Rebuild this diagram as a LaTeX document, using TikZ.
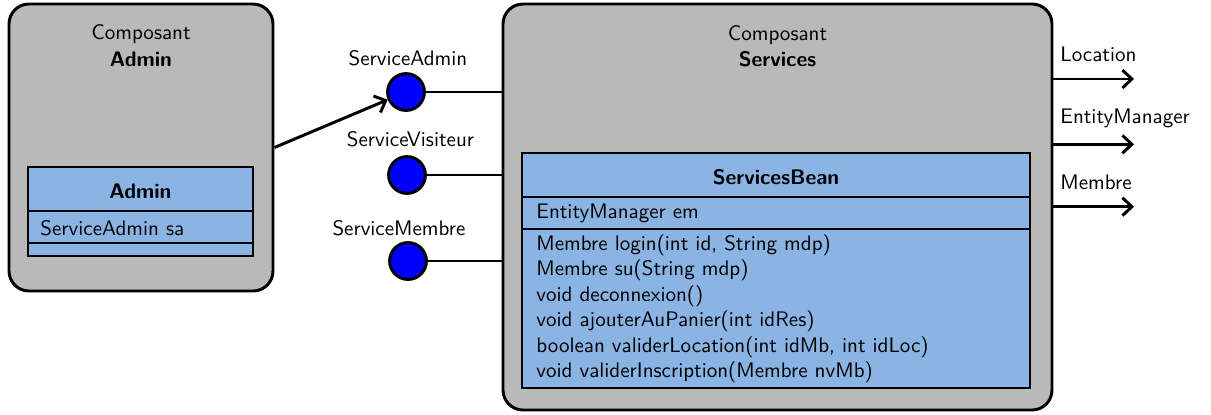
\documentclass[tikz,border=0pt]{standalone}
\usetikzlibrary{fit,arrows.meta}
\renewcommand{\familydefault}{\sfdefault}
\definecolor{compgray}{RGB}{185,185,185}
\definecolor{classblue}{RGB}{137,180,228}
\begin{document}
\begin{tikzpicture}[x=0.475pt,y=-0.475pt,
  comp/.style={draw, line width=1.4pt, fill=compgray, rounded corners=9.5pt, inner sep=0pt},
  cls/.style={draw, line width=0.8pt, fill=classblue, inner sep=0pt},
  port/.style={circle, draw, line width=1.4pt, fill=blue, minimum size=17.5pt, inner sep=0pt},
  wire/.style={line width=1.4pt},
  req/.style={wire, -{Straight Barb[length=4.5pt, width=8.5pt, line width=1.4pt]}},
  divider/.style={line width=0.8pt},
  lbl/.style={inner sep=0pt, font=\sffamily},
  blbl/.style={inner sep=0pt, font=\sffamily\bfseries},
]
\useasboundingbox (0,0) rectangle (1211,414);

% Components
\node[comp, fit={(9,4) (273,291)}] (admin) {};
\node[comp, fit={(503,4) (1052,410)}] (services) {};

\node[lbl, anchor=base] (admint1) at (141,39) {Composant};
\node[blbl, anchor=base] (admint2) at (141,66.7) {Admin};
\node[lbl, anchor=base] (servt1) at (777.5,40) {Composant};
\node[blbl, anchor=base] (servt2) at (777.5,66.7) {Services};

% Admin class
\node[cls, fit={(28,167) (253,256)}] (admincls) {};
\coordinate (ad1) at (0,211);
\coordinate (ad2) at (0,243);
\draw[divider] (admincls.west |- ad1) -- (admincls.east |- ad1);
\draw[divider] (admincls.west |- ad2) -- (admincls.east |- ad2);
\node[blbl, anchor=base] (adminname) at (140.5,198) {Admin};
\node[lbl, anchor=base west] (adminattr) at (40,235) {ServiceAdmin sa};

% ServicesBean class
\node[cls, fit={(522,152.7) (1030,387.7)}] (beancls) {};
\coordinate (bd1) at (0,196.7);
\coordinate (bd2) at (0,229);
\draw[divider] (beancls.west |- bd1) -- (beancls.east |- bd1);
\draw[divider] (beancls.west |- bd2) -- (beancls.east |- bd2);
\node[blbl, anchor=base] (beanname) at (776,184) {ServicesBean};
\node[lbl, anchor=base west] (beanattr) at (536,218.5) {EntityManager em};
\node[lbl, anchor=base west] (m1) at (536,250) {Membre login(int id, String mdp)};
\node[lbl, anchor=base west] (m2) at (536,275.5) {Membre su(String mdp)};
\node[lbl, anchor=base west] (m3) at (536,301) {void deconnexion()};
\node[lbl, anchor=base west] (m4) at (536,326.5) {void ajouterAuPanier(int idRes)};
\node[lbl, anchor=base west] (m5) at (536,352) {boolean validerLocation(int idMb, int idLoc)};
\node[lbl, anchor=base west] (m6) at (536,377.5) {void validerInscription(Membre nvMb)};

% Ports
\node[port] (pa) at (406,92) {};
\node[port] (pv) at (407,175) {};
\node[port] (pm) at (408,261) {};
\node[lbl, anchor=base] (pal) at (408,65.7) {ServiceAdmin};
\node[lbl, anchor=base] (pvl) at (410.5,146.7) {ServiceVisiteur};
\node[lbl, anchor=base] (pml) at (399,235) {ServiceMembre};

\draw[wire] (pa) -- (pa -| services.west);
\draw[wire] (pv) -- (pv -| services.west);
\draw[wire] (pm) -- (pm -| services.west);

\draw[req] (admin.east) -- (pa);

% Required interfaces
\coordinate (oL) at (1134,79);
\coordinate (oE) at (1134,144.3);
\coordinate (oM) at (1134,206.7);
\draw[req] (services.east |- oL) -- (oL);
\draw[req] (services.east |- oE) -- (oE);
\draw[req] (services.east |- oM) -- (oM);
\node[lbl, anchor=base west] (lL) at (1060,61.7) {Location};
\node[lbl, anchor=base west] (lE) at (1060,123.3) {EntityManager};
\node[lbl, anchor=base west] (lM) at (1060,189) {Membre};
\end{tikzpicture}
\end{document}
